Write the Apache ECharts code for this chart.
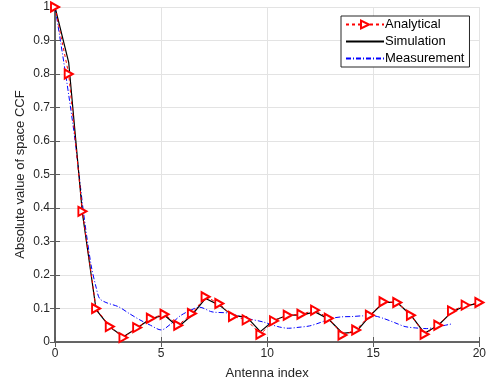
<!DOCTYPE html>
<html>
<head>
<meta charset="utf-8">
<script src="https://cdn.jsdelivr.net/npm/echarts@6/dist/echarts.min.js"></script>
<style>
  html, body { margin: 0; padding: 0; background: #ffffff; }
  #chart { width: 489px; height: 391px; }
</style>
</head>
<body>
<div id="chart"></div>
<script>
// Antenna positions: 32 elements spread over 0..20
const antennaCount = 32;
const antennaPos = Array.from({ length: antennaCount }, (_, k) => k * 20 / 31);

// |CCF| from the analytical model, one value per antenna
const analytical = [
  1.0, 0.80, 0.39, 0.10, 0.046, 0.013, 0.043, 0.071, 0.083, 0.05,
  0.085, 0.135, 0.115, 0.076, 0.066, 0.023, 0.063, 0.08, 0.083, 0.095,
  0.071, 0.021, 0.036, 0.08, 0.12, 0.118, 0.08, 0.023, 0.05, 0.093,
  0.11, 0.118
];

// |CCF| from simulation, same antenna positions
const simulation = [
  1.0, 0.835, 0.385, 0.097, 0.045, 0.016, 0.042, 0.07, 0.08, 0.045,
  0.08, 0.13, 0.11, 0.078, 0.075, 0.031, 0.065, 0.08, 0.08, 0.09,
  0.068, 0.026, 0.03, 0.078, 0.118, 0.118, 0.08, 0.026, 0.05, 0.09,
  0.108, 0.116
];

// Measured |CCF| (position, value)
const measX = [
  0, 0.5, 0.95, 1.33, 1.7, 1.95, 2.1, 2.4, 3.0, 3.5,
  4.0, 4.5, 5.0, 5.5, 5.9, 6.3, 6.8, 7.4, 8.2, 9.0,
  9.8, 10.5, 11.0, 11.5, 12.0, 12.5, 13.0, 13.5, 14.0, 14.5,
  15.0, 15.5, 16.0, 16.5, 17.0, 17.5, 18.0, 18.7
];
const measY = [
  1.0, 0.80, 0.60, 0.394, 0.23, 0.16, 0.13, 0.118, 0.105, 0.085,
  0.066, 0.05, 0.036, 0.056, 0.078, 0.092, 0.104, 0.09, 0.086, 0.071,
  0.06, 0.046, 0.041, 0.044, 0.048, 0.058, 0.07, 0.075, 0.076, 0.078,
  0.078, 0.07, 0.058, 0.046, 0.042, 0.04, 0.045, 0.054
];

const xTicks = [0, 5, 10, 15, 20];
const yTickLabels = ['0', '0.1', '0.2', '0.3', '0.4', '0.5', '0.6', '0.7', '0.8', '0.9', '1'];

const zip = (xs, ys) => xs.map((x, i) => [x, ys[i]]);

const axisColor = '#5c5c5c';
const textColor = '#262626';
const fontFamily = '"Liberation Sans", Arial, Helvetica, sans-serif';
const noMarker = { color: 'rgba(0,0,0,0)', borderWidth: 0 };

const chart = echarts.init(document.getElementById('chart'));
chart.setOption({
  animation: false,
  backgroundColor: '#ffffff',
  textStyle: { fontFamily: fontFamily },
  grid: { left: 55, right: 8, top: 7, bottom: 49, containLabel: false },
  legend: {
    orient: 'vertical',
    left: 341,
    top: 16,
    backgroundColor: '#ffffff',
    borderColor: '#262626',
    borderWidth: 1,
    borderRadius: 0,
    padding: [2, 5, 2, 4],
    itemWidth: 38,
    itemHeight: 10,
    itemGap: 4,
    textStyle: { fontSize: 13, color: '#000000', fontFamily: fontFamily, padding: [0, 0, 0, -4] },
    data: [
      { name: 'Analytical' },
      { name: 'Simulation', itemStyle: noMarker },
      { name: 'Measurement', itemStyle: noMarker }
    ]
  },
  xAxis: [
    {
      type: 'value', min: 0, max: 20, interval: 5,
      name: 'Antenna index', nameLocation: 'middle', nameGap: 25, nameMoveOverlap: false,
      nameTextStyle: { fontSize: 13, color: textColor },
      axisLine: { lineStyle: { color: axisColor, width: 1.6 } },
      axisTick: { inside: true, length: 5, lineStyle: { color: axisColor } },
      axisLabel: { fontSize: 12, color: textColor, margin: 6,
        formatter: v => xTicks.includes(v) ? String(v) : '' },
      splitLine: { show: true, lineStyle: { color: '#e3e3e3', width: 1 } }
    },
    {
      type: 'value', position: 'top', min: 0, max: 20, interval: 5,
      axisLine: { show: true, lineStyle: { color: axisColor, width: 1.6 } },
      axisTick: { show: true, inside: true, length: 5, lineStyle: { color: axisColor } },
      axisLabel: { show: false }, splitLine: { show: false }
    }
  ],
  yAxis: [
    {
      type: 'value', min: 0, max: 1, interval: 0.1,
      name: 'Absolute value of space CCF', nameLocation: 'middle', nameGap: 28, nameMoveOverlap: false,
      nameTextStyle: { fontSize: 13, color: textColor },
      axisLine: { show: true, lineStyle: { color: axisColor, width: 1.6 } },
      axisTick: { show: true, inside: true, length: 5, lineStyle: { color: axisColor } },
      axisLabel: { fontSize: 12, color: textColor, margin: 5,
        formatter: v => yTickLabels[Math.round(v * 10)] },
      splitLine: { show: true, lineStyle: { color: '#e3e3e3', width: 1 } }
    },
    {
      type: 'value', position: 'right', min: 0, max: 1, interval: 0.1,
      axisLine: { show: true, lineStyle: { color: axisColor, width: 1.6 } },
      axisTick: { show: true, inside: true, length: 5, lineStyle: { color: axisColor } },
      axisLabel: { show: false }, splitLine: { show: false }
    }
  ],
  series: [
    {
      name: 'Measurement', type: 'line', xAxisIndex: 0, yAxisIndex: 0,
      data: zip(measX, measY), showSymbol: false, symbol: 'circle', smooth: 0.3,
      lineStyle: { color: '#0000ff', width: 1, type: [5, 2, 1, 2] },
      itemStyle: { color: '#0000ff' }, z: 2
    },
    {
      name: 'Simulation', type: 'line', xAxisIndex: 0, yAxisIndex: 0,
      data: zip(antennaPos, simulation), showSymbol: false, symbol: 'circle',
      lineStyle: { color: '#000000', width: 1.2 },
      itemStyle: { color: '#000000' }, z: 3
    },
    {
      name: 'Analytical', type: 'line', xAxisIndex: 0, yAxisIndex: 0,
      data: zip(antennaPos, analytical),
      symbol: 'emptyTriangle', symbolSize: [9, 8], symbolRotate: -90,
      showAllSymbol: true,
      lineStyle: { color: '#ff0000', width: 1, type: [3, 3] },
      itemStyle: { color: '#ff0000', borderColor: '#ff0000', borderWidth: 1.2 }, z: 4
    }
  ]
});
</script>
</body>
</html>
